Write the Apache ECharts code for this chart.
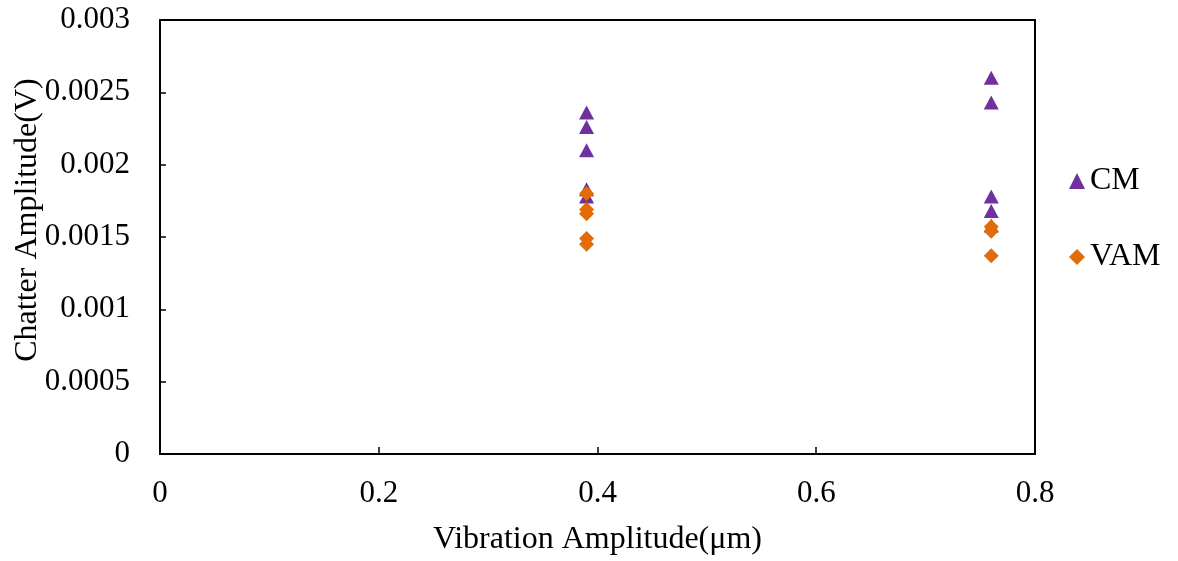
<!DOCTYPE html>
<html>
<head>
<meta charset="utf-8">
<script src="https://cdn.jsdelivr.net/npm/echarts@6/dist/echarts.min.js"></script>
<style>html,body{margin:0;padding:0;background:#fff}#c{width:1178px;height:561px}</style>
</head>
<body>
<div id="c"></div>
<script>
var cmX = [0.39, 0.39, 0.39, 0.39, 0.39, 0.76, 0.76, 0.76, 0.76, 0.76];
var cmY = [0.00236, 0.00226, 0.00210, 0.00183, 0.00178, 0.00260, 0.00243, 0.00178, 0.00168, 0.00158];
var vamX = [0.39, 0.39, 0.39, 0.39, 0.39, 0.76, 0.76, 0.76];
var vamY = [0.00180, 0.00169, 0.00166, 0.00149, 0.00145, 0.00157, 0.00154, 0.00137];
var xTitle = 'Vibration Amplitude(μm)';
var yTitle = 'Chatter Amplitude(V)';

function pairs(xs, ys) { return xs.map(function (x, i) { return [x, ys[i]]; }); }

var font = 'Liberation Serif';
var chart = echarts.init(document.getElementById('c'));
chart.setOption({
  animation: false,
  textStyle: { fontFamily: font },
  grid: { left: 160, right: 143, top: 20, bottom: 107, outerBoundsMode: 'none', containLabel: false, show: true, borderColor: '#000', borderWidth: 2, backgroundColor: 'transparent' },
  legend: {
    orient: 'vertical', left: 1064, top: 160, itemGap: 44,
    itemWidth: 16, itemHeight: 16,
    textStyle: { fontFamily: font, fontSize: 32, color: '#000' },
    data: [{ name: 'CM', icon: 'triangle' }, { name: 'VAM', icon: 'diamond' }]
  },
  xAxis: {
    type: 'value', min: 0, max: 0.8, interval: 0.2,
    name: xTitle, nameLocation: 'middle', nameGap: 70, nameMoveOverlap: false,
    nameTextStyle: { fontFamily: font, fontSize: 32, color: '#000' },
    axisLine: { show: true, lineStyle: { color: '#000', width: 2 } },
    axisTick: { show: true, inside: true, length: 7, lineStyle: { color: '#000', width: 1.5 } },
    axisLabel: { fontFamily: font, fontSize: 31, color: '#000', margin: 24 },
    splitLine: { show: false }
  },
  yAxis: {
    type: 'value', min: 0, max: 0.003, interval: 0.0005,
    name: yTitle, nameLocation: 'middle', nameGap: 116, nameRotate: 90, nameMoveOverlap: false,
    nameTextStyle: { fontFamily: font, fontSize: 32, color: '#000', padding: [0, 0, 0, 34] },
    axisLine: { show: true, lineStyle: { color: '#000', width: 2 } },
    axisTick: { show: true, inside: true, length: 6, lineStyle: { color: '#000', width: 1.5 } },
    axisLabel: { fontFamily: font, fontSize: 31, color: '#000', margin: 30 },
    splitLine: { show: false }
  },
  series: [
    { name: 'CM', type: 'scatter', symbol: 'triangle', symbolSize: [15, 14], itemStyle: { color: '#7030A0', opacity: 1 }, data: pairs(cmX, cmY) },
    { name: 'VAM', type: 'scatter', symbol: 'diamond', symbolSize: [15, 15], itemStyle: { color: '#E36C0A', opacity: 1 }, data: pairs(vamX, vamY) }
  ]
});
</script>
</body>
</html>
